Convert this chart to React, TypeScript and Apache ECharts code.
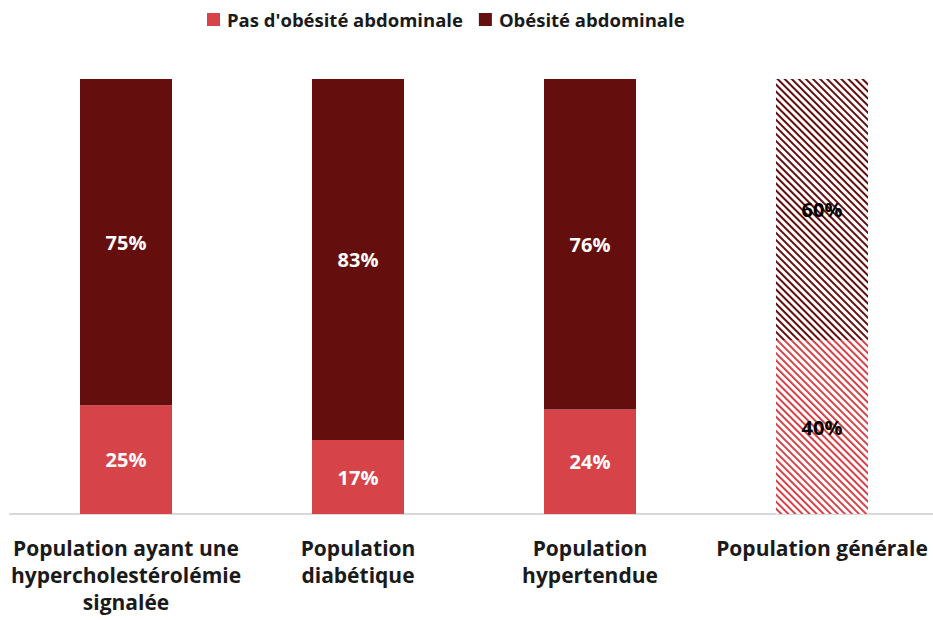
import React, { useEffect, useRef } from "react";
import * as echarts from "echarts";

const categories = [
  "Population ayant une\nhypercholestérolémie\nsignalée",
  "Population\ndiabétique",
  "Population\nhypertendue",
  "Population générale",
];
const pasObesite = [25, 17, 24, 40];
const obesite = [75, 83, 76, 60];
const seriesNames = ["Pas d'obésité abdominale", "Obésité abdominale"];

const LIGHT = "#d6444a";
const DARK = "#650e0e";
const FONT = "'Open Sans', 'Liberation Sans', sans-serif";

function decal(color: string) {
  return {
    symbol: "rect",
    symbolSize: 1,
    dashArrayX: [1, 0],
    dashArrayY: [1.2, 2.3],
    rotation: Math.PI / 4,
    color,
  };
}

export default function App() {
  const ref = useRef<HTMLDivElement>(null);
  useEffect(() => {
    const chart = echarts.init(ref.current!, null, { renderer: "svg" });
    const mk = (vals: number[], color: string) =>
      vals.map((v, i) =>
        i === 3
          ? {
              value: v,
              itemStyle: { color: "#ffffff", decal: decal(color) },
              label: { color: "#000000" },
            }
          : { value: v }
      );
    const label = {
      show: true,
      position: "inside",
      formatter: "{c}%",
      fontFamily: FONT,
      fontWeight: "bold",
      fontSize: 20,
      color: "#ffffff",
    };
    chart.setOption({
      animation: false,
      aria: { enabled: false, decal: { show: true } },
      legend: {
        top: 5,
        left: 202,
        itemWidth: 13,
        itemHeight: 13,
        itemGap: 16,
        icon: "rect",
        textStyle: { fontFamily: FONT, fontWeight: "bold", fontSize: 18.5, color: "#1a1a1a", padding: [0, 0, 0, 2] },
        data: seriesNames,
      },
      grid: { left: 10, width: 928, top: 79, bottom: 106 },
      xAxis: {
        type: "category",
        data: categories,
        axisLine: { lineStyle: { color: "#d9d9d9", width: 2 } },
        axisTick: { show: false },
        axisLabel: {
          interval: 0,
          margin: 20,
          fontFamily: FONT,
          fontWeight: "bold",
          fontSize: 21,
          lineHeight: 27,
          color: "#1a1a1a",
        },
      },
      yAxis: { type: "value", min: 0, max: 100, show: false, splitLine: { show: false } },
      series: [
        {
          name: seriesNames[0],
          type: "bar",
          stack: "a",
          barWidth: 92,
          itemStyle: { color: LIGHT },
          label,
          data: mk(pasObesite, LIGHT),
        },
        {
          name: seriesNames[1],
          type: "bar",
          stack: "a",
          barWidth: 92,
          itemStyle: { color: DARK },
          label,
          data: mk(obesite, DARK),
        },
      ],
    });
    return () => chart.dispose();
  }, []);
  return (
    <div
      ref={ref}
      style={{ position: "fixed", left: 0, top: 0, width: 945, height: 620, background: "#fff" }}
    />
  );
}
